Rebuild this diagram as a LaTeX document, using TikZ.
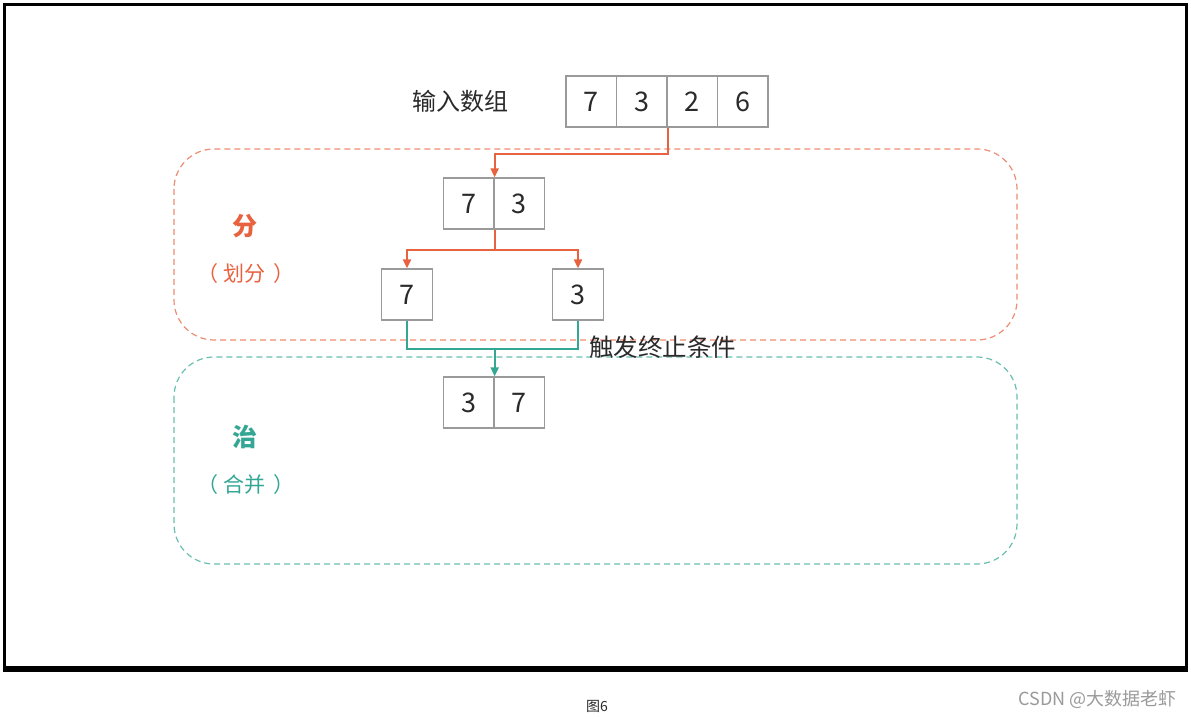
\documentclass[tikz,border=0pt]{standalone}
\usepackage{fontspec}
\setmainfont{Noto Sans CJK SC}
\usetikzlibrary{arrows.meta,calc}
\definecolor{oline}{HTML}{E8623F}
\definecolor{odash}{HTML}{EE8C74}
\definecolor{gline}{HTML}{34A794}
\definecolor{gdash}{HTML}{6BBFB0}
\definecolor{cellc}{HTML}{9A9A9A}
\definecolor{txt}{HTML}{2A2A2A}
\tikzset{
  cell/.style={draw=cellc,line width=1.3pt,minimum width=50.5pt,minimum height=51pt,inner sep=0pt,font=\fontsize{27}{30}\selectfont,text=txt},
  oarrow/.style={draw=oline,line width=2pt,-{Triangle[width=8pt,length=9pt]}},
  garrow/.style={draw=gline,line width=2pt,-{Triangle[width=8pt,length=9pt]}},
  gplain/.style={draw=gline,line width=2pt},
  region/.style={line width=1.2pt,dash pattern=on 6pt off 4pt,rounded corners=40pt},
  lbl/.style={inner sep=0pt,font=\fontsize{24}{27}\selectfont,text=txt},
  big/.style={inner sep=0pt,font=\fontsize{25}{28}\selectfont\bfseries},
  small/.style={inner sep=0pt,font=\fontsize{21}{24}\selectfont},
}
\begin{document}
\begin{tikzpicture}[x=1pt,y=-1pt]
\useasboundingbox (0,0) rectangle (1191,719);
\fill[white] (0,0) rectangle (1191,719);
% frame
\draw[black,line width=2.2pt] (4.5,4.5) rectangle (1186.5,668);
\fill[black] (3.4,666) rectangle (1187.6,672);
% regions
\draw[region,draw=odash] (174,149) rectangle (1017,340);
\draw[region,draw=gdash] (174,357) rectangle (1017,564);
% top array
\node[lbl] (inp) at (460,101) {输入数组};
\node[cell] (t1) at (591.25,101.5) {7};
\node[cell] (t2) at (641.75,101.5) {3};
\node[cell] (t3) at (692.25,101.5) {2};
\node[cell] (t4) at (742.75,101.5) {6};
% level 1
\node[cell] (a1) at (468.75,203.5) {7};
\node[cell] (a2) at (519.25,203.5) {3};
% level 2
\node[cell] (b1) at (407,294.5) {7};
\node[cell] (b2) at (578,294.5) {3};
% merged
\node[cell] (c1) at (468.75,402.5) {3};
\node[cell] (c2) at (519.25,402.5) {7};
% labels
\node[big,text=oline] (fen) at (245,226) {分};
\node[small,text=oline] (fen2) at (246,274) {（\hspace{5pt}划分\hspace{9pt}）};
\node[big,text=gline] (zhi) at (245,437) {治};
\node[small,text=gline] (zhi2) at (246,485) {（\hspace{5pt}合并\hspace{9pt}）};
\node[lbl,anchor=west,font=\fontsize{24.5}{27}\selectfont] (trig) at (589,347) {触发终止条件};
% connectors
\draw[oarrow] (t2.south east) -- ++(0,26) -| (a1.north east);
\draw[oarrow] (a1.south east) -- ++(0,20) -| (b1.north);
\draw[oarrow] (a1.south east) -- ++(0,20) -| (b2.north);
\draw[gplain] (b1.south) -- ++(0,28) coordinate (g1) -| (b2.south);
\draw[garrow] (g1 -| c1.north east) -- (c1.north east);
% caption
\node[inner sep=0pt,font=\fontsize{14}{16}\selectfont,text=txt] (cap) at (597,706) {图6};
\node[inner sep=0pt,anchor=east,font=\fontsize{18}{20}\selectfont,text=cellc] (src) at (1177,699) {CSDN @大数据老虾};
\end{tikzpicture}
\end{document}
